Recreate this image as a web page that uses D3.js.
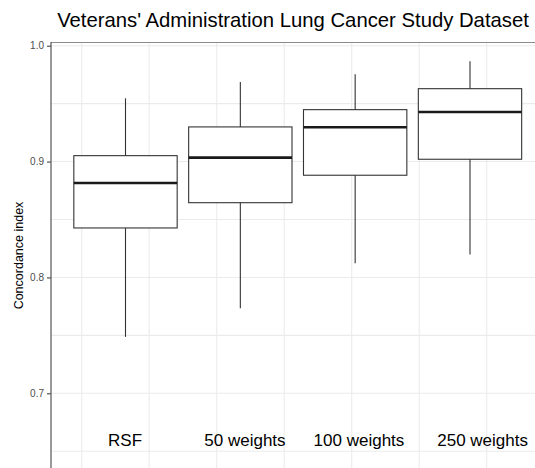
<!DOCTYPE html>
<html>
<head>
<meta charset="utf-8">
<script src="https://cdn.jsdelivr.net/npm/d3@7"></script>
<style>
  body { margin: 0; background: #fff; }
  text { font-family: "Liberation Sans", Arial, sans-serif; }
</style>
</head>
<body>
<svg id="chart" width="535" height="468"></svg>
<script>
// data
const categories = ['RSF', '50 weights', '100 weights', '250 weights'];
const whiskerLow = [0.7487, 0.7734, 0.8123, 0.8197];
const q1 = [0.8427, 0.8645, 0.8882, 0.9020];
const median = [0.8815, 0.9034, 0.9296, 0.9428];
const q3 = [0.9051, 0.9299, 0.9448, 0.9629];
const whiskerHigh = [0.9546, 0.9687, 0.9753, 0.9865];
const yTicks = [0.7, 0.8, 0.9, 1.0];
// label anchor positions (in category units) as placed in the original
const labelPos = [0.996, 2.04, 3.033, 4.11];
const labelValue = 0.6542;

const boxes = categories.map((c, i) => ({
  name: c, pos: i + 1,
  lo: whiskerLow[i], q1: q1[i], med: median[i], q3: q3[i], hi: whiskerHigh[i]
}));

const svg = d3.select('#chart');
const panel = { left: 51, top: 42, right: 560, bottom: 470 };

const y = d3.scaleLinear()
  .domain([0.7, 1.0])
  .range([393.3, 45.7]);

const x = d3.scaleLinear()
  .domain([1, 4])
  .range([125.5, 470]);

const boxWidth = x(1.9) - x(1);

// background grid (vertical lines sit on their own spacing)
const gridX = d3.range(0, 8).map(k => panel.left + 30.7 + k * 67.5);
const gridY = d3.range(0.65, 1.001, 0.05);

const grid = svg.append('g');
grid.selectAll('.gx')
  .data(gridX)
  .enter().append('line')
  .attr('x1', d => d).attr('x2', d => d)
  .attr('y1', panel.top).attr('y2', panel.bottom)
  .attr('stroke', '#ebebeb')
  .attr('stroke-width', 1.1);
grid.selectAll('.gy')
  .data(gridY)
  .enter().append('line')
  .attr('x1', panel.left).attr('x2', panel.right)
  .attr('y1', d => y(d)).attr('y2', d => y(d))
  .attr('stroke', '#ebebeb')
  .attr('stroke-width', 1.1);

// top panel border
svg.append('line')
  .attr('x1', panel.left).attr('x2', panel.right)
  .attr('y1', panel.top + 0.5).attr('y2', panel.top + 0.5)
  .attr('stroke', '#8c8c8c')
  .attr('stroke-width', 1);

// y axis
const yAxis = svg.append('g')
  .attr('transform', `translate(${panel.left},0)`)
  .call(d3.axisLeft(y).tickValues(yTicks).tickFormat(d3.format('.1f')).tickSizeOuter(0).tickSize(4).tickPadding(3));
yAxis.select('.domain').remove();
yAxis.selectAll('.tick line').attr('stroke', '#333').attr('stroke-width', 1);
yAxis.selectAll('.tick text')
  .attr('fill', '#4d4d4d')
  .style('font-size', '10px')
  .style('font-family', '"Liberation Sans", Arial, sans-serif');
svg.append('line')
  .attr('x1', panel.left).attr('x2', panel.left)
  .attr('y1', panel.top).attr('y2', panel.bottom)
  .attr('stroke', '#555')
  .attr('stroke-width', 1.2);

// whiskers
const g = svg.append('g');
g.selectAll('.whisker')
  .data(boxes)
  .enter().append('line')
  .attr('x1', d => x(d.pos)).attr('x2', d => x(d.pos))
  .attr('y1', d => y(d.lo)).attr('y2', d => y(d.hi))
  .attr('stroke', '#333')
  .attr('stroke-width', 1.1);

// boxes
g.selectAll('.box')
  .data(boxes)
  .enter().append('rect')
  .attr('x', d => x(d.pos) - boxWidth / 2)
  .attr('y', d => y(d.q3))
  .attr('width', boxWidth)
  .attr('height', d => y(d.q1) - y(d.q3))
  .attr('fill', '#fff')
  .attr('stroke', '#333')
  .attr('stroke-width', 1.1);

// medians
g.selectAll('.median')
  .data(boxes)
  .enter().append('line')
  .attr('x1', d => x(d.pos) - boxWidth / 2).attr('x2', d => x(d.pos) + boxWidth / 2)
  .attr('y1', d => y(d.med)).attr('y2', d => y(d.med))
  .attr('stroke', '#1a1a1a')
  .attr('stroke-width', 2.6);

// category labels inside the panel
svg.selectAll('.cat')
  .data(categories)
  .enter().append('text')
  .attr('x', (d, i) => x(labelPos[i]))
  .attr('y', y(labelValue))
  .attr('text-anchor', 'middle')
  .attr('fill', '#000')
  .style('font-size', '17px')
  .text(d => d);

// title
svg.append('text')
  .attr('x', 293)
  .attr('y', 27)
  .attr('text-anchor', 'middle')
  .attr('fill', '#000')
  .style('font-size', '20.3px')
  .text("Veterans' Administration Lung Cancer Study Dataset");

// y axis title
svg.append('text')
  .attr('transform', 'translate(23,255.5) rotate(-90)')
  .attr('text-anchor', 'middle')
  .attr('fill', '#000')
  .style('font-size', '12.5px')
  .text('Concordance index');
</script>
</body>
</html>
